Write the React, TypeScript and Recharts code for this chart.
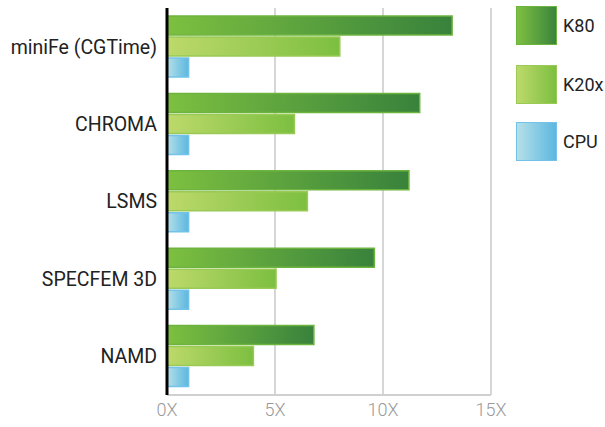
import { BarChart, Bar, XAxis, YAxis, CartesianGrid } from 'recharts';

const apps = ['miniFe (CGTime)', 'CHROMA', 'LSMS', 'SPECFEM 3D', 'NAMD'];
const k80 = [13.2, 11.7, 11.2, 9.6, 6.8];
const k20x = [8.0, 5.9, 6.5, 5.05, 4.0];
const cpu = [1, 1, 1, 1, 1];
const xTicks = [0, 5, 10, 15];

const data = apps.map((name, i) => ({
  name,
  k80: k80[i],
  k20x: k20x[i],
  cpu: cpu[i],
}));

const legendItems = [
  { label: 'K80', from: '#7dc040', to: '#3a843d', border: '#6db43f', top: 6 },
  { label: 'K20x', from: '#bdd96b', to: '#7cbf40', border: '#98ca55', top: 65 },
  { label: 'CPU', from: '#b5e0e8', to: '#5cb7e0', border: '#72c2ea', top: 122 },
];

export default function App() {
  return (
    <div style={{ position: 'relative', width: 605, height: 427, overflow: 'hidden', fontFamily: 'Roboto, sans-serif' }}>
      <style>{'html, body { margin: 0; padding: 0; overflow: hidden; }'}</style>
      <BarChart
        width={605}
        height={427}
        data={data}
        layout="vertical"
        margin={{ top: 8, right: 114, bottom: 8, left: 8 }}
        barCategoryGap="10%"
        barGap={2}
      >
        <defs>
          <linearGradient id="gK80" x1="0" y1="0" x2="1" y2="0">
            <stop offset="0%" stopColor="#7dc040" />
            <stop offset="100%" stopColor="#38823c" />
          </linearGradient>
          <linearGradient id="gK20" x1="0" y1="0" x2="1" y2="0">
            <stop offset="0%" stopColor="#bdd96b" />
            <stop offset="100%" stopColor="#7cbf40" />
          </linearGradient>
          <linearGradient id="gCPU" x1="0" y1="0" x2="1" y2="0">
            <stop offset="0%" stopColor="#b5e0e8" />
            <stop offset="100%" stopColor="#5cb7e0" />
          </linearGradient>
        </defs>
        <CartesianGrid horizontal={false} stroke="#d6d6d6" strokeWidth={2} />
        <XAxis
          type="number"
          domain={[0, 15]}
          ticks={xTicks}
          tickFormatter={(v) => `${v}X`}
          tickLine={false}
          axisLine={{ stroke: '#d0d0d0', strokeWidth: 2 }}
          tick={{ fill: '#9a9a9a', fontSize: 18, fontWeight: 300 }}
          height={24}
        />
        <YAxis
          type="category"
          dataKey="name"
          width={159}
          tickLine={false}
          tickMargin={4}
          axisLine={{ stroke: '#000', strokeWidth: 3 }}
          tick={{ fill: '#222', fontSize: 19.5 }}
        />
        <Bar dataKey="k80" fill="url(#gK80)" stroke="#6db43f" strokeWidth={1.5} barSize={19} isAnimationActive={false} />
        <Bar dataKey="k20x" fill="url(#gK20)" stroke="#98ca55" strokeWidth={1.5} barSize={19} isAnimationActive={false} />
        <Bar dataKey="cpu" fill="url(#gCPU)" stroke="#72c2ea" strokeWidth={1.5} barSize={19} isAnimationActive={false} />
      </BarChart>
      {legendItems.map((item) => (
        <div
          key={item.label}
          style={{ position: 'absolute', left: 516, top: item.top, display: 'flex', alignItems: 'center', whiteSpace: 'nowrap' }}
        >
          <div
            style={{
              width: 39,
              height: 37,
              flexShrink: 0,
              border: `1.5px solid ${item.border}`,
              background: `linear-gradient(to right, ${item.from}, ${item.to})`,
            }}
          />
          <span style={{ marginLeft: 6, fontSize: 18, color: '#222' }}>{item.label}</span>
        </div>
      ))}
    </div>
  );
}
